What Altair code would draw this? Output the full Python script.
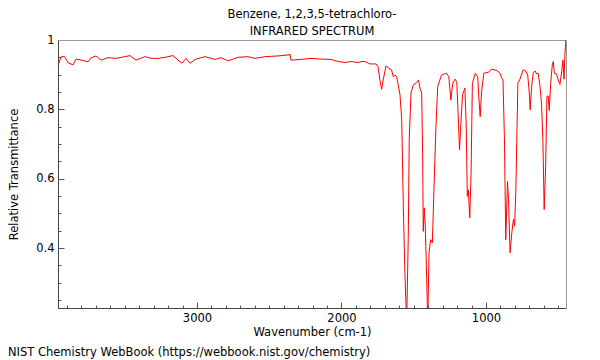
import altair as alt
import pandas as pd

# Wavenumber (cm-1) (high -> low)
wavenumber = [3962, 3939, 3916, 3893, 3858, 3837, 3803, 3754, 3734, 3699,
              3664, 3616, 3561, 3498, 3464, 3422, 3360, 3318, 3270, 3221,
              3166, 3131, 3104, 3076, 3048, 3014, 2945, 2875, 2834, 2785,
              2716, 2647, 2599, 2529, 2439, 2370, 2355, 2350, 2280, 2211,
              2142, 2073, 2024, 1976, 1934, 1886, 1858, 1837, 1803, 1761,
              1747, 1734, 1722, 1711, 1692, 1671, 1653, 1642, 1628, 1618,
              1607, 1595, 1583, 1572, 1561, 1549, 1538, 1531, 1519, 1503,
              1480, 1466, 1457, 1445, 1438, 1434, 1427, 1420, 1410, 1403,
              1394, 1383, 1371, 1360, 1346, 1334, 1307, 1273, 1257, 1243,
              1230, 1214, 1202, 1190, 1183, 1171, 1162, 1146, 1137, 1129,
              1122, 1112, 1103, 1094, 1074, 1057, 1048, 1040, 1031, 1015,
              984, 960, 925, 902, 895, 882, 872, 863, 851, 844,
              833, 821, 810, 802, 793, 779, 765, 742, 725, 711,
              700, 694, 684, 673, 661, 649, 638, 626, 615, 606,
              597, 587, 578, 569, 562, 552, 541, 534, 527, 511,
              500, 488, 476, 467, 460, 453, 447]

transmittance = [0.928, 0.952, 0.952, 0.935, 0.928, 0.945, 0.942, 0.937, 0.948, 0.954,
                 0.942, 0.949, 0.947, 0.952, 0.955, 0.942, 0.952, 0.947, 0.947, 0.950,
                 0.955, 0.942, 0.933, 0.947, 0.933, 0.944, 0.952, 0.944, 0.949, 0.940,
                 0.950, 0.952, 0.947, 0.952, 0.954, 0.957, 0.958, 0.942, 0.944, 0.947,
                 0.945, 0.944, 0.938, 0.935, 0.938, 0.935, 0.938, 0.938, 0.931, 0.931,
                 0.923, 0.885, 0.858, 0.885, 0.925, 0.918, 0.914, 0.894, 0.899, 0.894,
                 0.870, 0.842, 0.770, 0.520, 0.329, 0.180, 0.424, 0.712, 0.847, 0.870,
                 0.877, 0.885, 0.861, 0.847, 0.664, 0.448, 0.516, 0.463, 0.310, 0.180,
                 0.387, 0.424, 0.415, 0.568, 0.750, 0.866, 0.899, 0.904, 0.894, 0.827,
                 0.875, 0.887, 0.880, 0.760, 0.683, 0.779, 0.842, 0.861, 0.760, 0.549,
                 0.568, 0.487, 0.616, 0.875, 0.904, 0.894, 0.827, 0.779, 0.847, 0.904,
                 0.907, 0.916, 0.912, 0.904, 0.894, 0.885, 0.712, 0.424, 0.592, 0.540,
                 0.386, 0.444, 0.482, 0.463, 0.568, 0.875, 0.887, 0.914, 0.911, 0.899,
                 0.847, 0.799, 0.866, 0.904, 0.911, 0.902, 0.904, 0.866, 0.813, 0.712,
                 0.511, 0.635, 0.837, 0.839, 0.797, 0.875, 0.928, 0.938, 0.904, 0.902,
                 0.885, 0.872, 0.909, 0.942, 0.887, 0.962, 1.000]

x_labels = [1000, 2000, 3000]
x_minor = list(range(500, 4000, 100))
y_labels = [0.4, 0.6, 0.8, 1.0]
y_minor = [0.25, 0.3, 0.35, 0.4, 0.45, 0.5, 0.55, 0.6, 0.65, 0.7, 0.75, 0.8, 0.85, 0.9, 0.95]

title_lines = ["Benzene, 1,2,3,5-tetrachloro-", "INFRARED SPECTRUM"]
credit = ["NIST Chemistry WebBook (https://webbook.nist.gov/chemistry)"]

df = pd.DataFrame({"wn": wavenumber, "t": transmittance})
credit_df = pd.DataFrame({"label": credit})

FONT = "DejaVu Sans"
FS = 11.5
W, H = 508, 268

xscale = alt.Scale(domain=[446, 3962], reverse=True, nice=False, zero=False)
yscale = alt.Scale(domain=[0.227, 1.0], nice=False, zero=False)

base = alt.Chart(df)

line = base.mark_line(color="#ff0000", strokeWidth=1, clip=True).encode(
    x=alt.X("wn:Q", scale=xscale, title="Wavenumber (cm-1)",
            axis=alt.Axis(orient="bottom", values=x_labels, format="d", ticks=False,
                          labelPadding=4, domainColor="#444", grid=False,
                          titlePadding=2.5, labelFlush=False)),
    y=alt.Y("t:Q", scale=yscale, title="Relative Transmittance",
            axis=alt.Axis(orient="left", values=y_labels, format="~g", ticks=False,
                          labelPadding=4, domainColor="#444", grid=False,
                          titlePadding=16, labelFlush=False)),
)

tick_layer = base.mark_line(strokeOpacity=0).encode(
    x=alt.X("wn:Q", scale=xscale, title=None,
            axis=alt.Axis(orient="top", offset=-H, values=x_minor, labels=False,
                          domain=False, grid=False, tickColor="#555", tickWidth=1,
                          tickSize={"condition": {"test": "datum.value % 1000 === 0", "value": 6},
                                    "value": 3})),
    y=alt.Y("t:Q", scale=yscale, title=None,
            axis=alt.Axis(orient="right", offset=-W, values=y_minor, labels=False,
                          domain=False, grid=False, tickColor="#555", tickWidth=1,
                          tickSize={"condition": {"test": "abs(datum.value * 5 - round(datum.value * 5)) < 0.001",
                                                  "value": 6},
                                    "value": 3})),
)

credit_text = alt.Chart(credit_df).mark_text(
    align="left", baseline="middle", font=FONT, fontSize=FS, color="#000"
).encode(x=alt.value(-50), y=alt.value(313), text="label:N")

chart = alt.layer(line, tick_layer, credit_text).resolve_axis(
    x="independent", y="independent"
).properties(
    width=W, height=H,
    title=alt.TitleParams(text=title_lines, font=FONT, fontSize=FS, fontWeight="normal",
                          color="#000", offset=-3, lineHeight=17, anchor="middle"),
    autosize=alt.AutoSizeParams(type="none"),
    padding={"left": 50, "top": 32, "right": 26, "bottom": 52},
).configure_view(stroke="#999", strokeWidth=1).configure_axis(
    labelFont=FONT, labelFontSize=FS, labelColor="#000",
    titleFont=FONT, titleFontSize=FS, titleFontWeight="normal", titleColor="#000",
)

chart.save("out.html", embed_options={"renderer": "svg", "actions": False})
